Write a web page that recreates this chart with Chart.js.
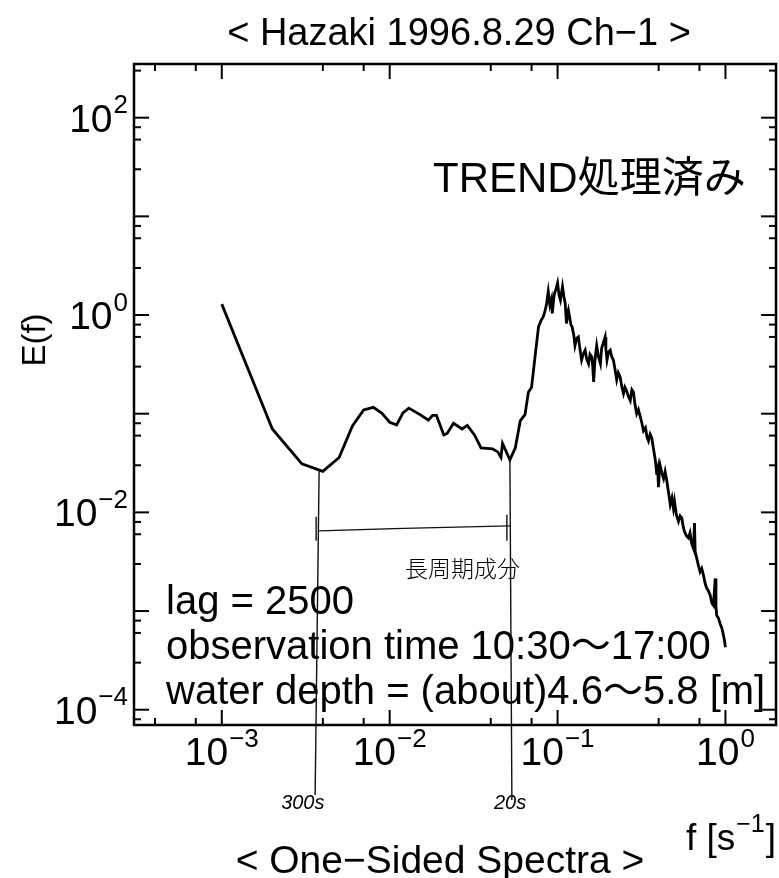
<!DOCTYPE html>
<html>
<head>
<meta charset="utf-8">
<script src="https://cdn.jsdelivr.net/npm/chart.js@4.4.0/dist/chart.umd.min.js"></script>
<style>
  html, body { margin: 0; padding: 0; background: #fff; }
</style>
</head>
<body>
<canvas id="spectra" width="779" height="878"></canvas>
<script>
// frequency [1/s] and one-sided spectrum E(f)
const freq = [
  0.001, 0.002, 0.003, 0.004, 0.005, 0.006, 0.007, 0.008, 0.009, 0.010,
  0.011, 0.012, 0.013, 0.015, 0.017, 0.018, 0.019, 0.021, 0.022, 0.024,
  0.027, 0.029, 0.032, 0.035, 0.041, 0.044, 0.046, 0.047, 0.052, 0.056,
  0.060, 0.064, 0.067, 0.070, 0.073, 0.077,
  0.080, 0.082, 0.084, 0.086, 0.088, 0.090, 0.092, 0.093, 0.095, 0.096,
  0.098, 0.100, 0.102, 0.104, 0.106, 0.107, 0.109, 0.111, 0.113, 0.115,
  0.116, 0.118, 0.120, 0.122, 0.125, 0.127, 0.130, 0.133, 0.136, 0.139,
  0.142, 0.146, 0.149, 0.153, 0.156, 0.160, 0.162, 0.164, 0.167, 0.171,
  0.175, 0.180, 0.183, 0.187, 0.192, 0.194, 0.197, 0.201, 0.206, 0.210,
  0.215, 0.220, 0.225, 0.230, 0.236, 0.241, 0.247, 0.252, 0.258, 0.264,
  0.271, 0.277, 0.283, 0.290, 0.296, 0.303, 0.310, 0.318, 0.325, 0.334,
  0.341, 0.348, 0.356, 0.364, 0.372, 0.381, 0.386, 0.390, 0.395, 0.399,
  0.404, 0.408, 0.418, 0.428, 0.437, 0.447, 0.458, 0.469, 0.480, 0.490,
  0.497, 0.510, 0.525, 0.537, 0.549, 0.560, 0.570, 0.585, 0.602, 0.615,
  0.630, 0.645, 0.654, 0.660, 0.675, 0.690, 0.706, 0.722, 0.740, 0.757,
  0.774, 0.792, 0.811, 0.830, 0.848, 0.869, 0.878, 0.887, 0.908, 0.930,
  0.950, 0.973, 0.987, 1.000
]
const spec = [
  1.29, 0.070, 0.031, 0.026, 0.036, 0.075, 0.109, 0.116, 0.101, 0.082,
  0.077, 0.102, 0.114, 0.099, 0.086, 0.096, 0.096, 0.061, 0.063, 0.080,
  0.070, 0.076, 0.061, 0.045, 0.044, 0.041, 0.036, 0.050, 0.034, 0.045,
  0.085, 0.098, 0.165, 0.185, 0.347, 0.76,
  0.89, 0.95, 1.08, 1.30, 1.73, 1.26, 1.45, 1.04, 1.50, 1.66,
  1.85, 2.11, 1.60, 1.42, 1.75, 1.94, 1.55, 1.32, 0.82, 1.05,
  1.12, 0.95, 0.80, 0.76, 0.62, 0.49, 0.58, 0.60, 0.45, 0.35,
  0.40, 0.44, 0.36, 0.32, 0.40, 0.375, 0.30, 0.21, 0.35, 0.49,
  0.38, 0.32, 0.46, 0.52, 0.60, 0.45, 0.35, 0.42, 0.44, 0.38,
  0.35, 0.28, 0.22, 0.26, 0.235, 0.19, 0.16, 0.185, 0.17, 0.15,
  0.136, 0.175, 0.165, 0.12, 0.10, 0.11, 0.095, 0.08, 0.067, 0.072,
  0.058, 0.053, 0.062, 0.057, 0.045, 0.035, 0.029, 0.024, 0.027, 0.018,
  0.026, 0.030, 0.025, 0.022, 0.026, 0.021, 0.016, 0.012, 0.014, 0.011,
  0.013, 0.0095, 0.0081, 0.0092, 0.0088, 0.0072, 0.0064, 0.0058, 0.0055, 0.0062,
  0.0048, 0.0043, 0.0078, 0.0040, 0.0034, 0.0029, 0.0025, 0.0027, 0.0023, 0.0019,
  0.0017, 0.0016, 0.00145, 0.0012, 0.00114, 0.00214, 0.0011, 0.0009, 0.00085, 0.00074,
  0.00068, 0.00057, 0.00050, 0.00043
]

const xRange = [3e-4, 2]
const yRange = [7e-5, 350]
const xLabelExps = [-3, -2, -1, 0]
const yLabelExps = [2, 0, -2, -4]

const title = '< Hazaki 1996.8.29 Ch\u22121 >'
const subTitle = '< One\u2212Sided Spectra >'
const trendNote = 'TREND処理済み'
const notes = ['lag = 2500', 'observation time 10:30〜17:00', 'water depth = (about)4.6〜5.8 [m]']

// hand-written marks on the print
const periodMarks = [0.0038, 0.052]
const periodLabels = ['300s', '20s']
const bandLevel = 0.0065
const bandNote = '長周期成分'

const FONT = '"Liberation Sans", Arial, "Noto Sans CJK JP", sans-serif'

function logTicks(scale) {
  const ticks = []
  const lo = Math.floor(Math.log10(scale.min))
  const hi = Math.ceil(Math.log10(scale.max))
  for (let e = lo; e <= hi; e++) {
    for (let k = 1; k <= 9; k++) {
      const v = k * Math.pow(10, e)
      if (v >= scale.min * 0.999 && v <= scale.max * 1.001) ticks.push({ value: v, major: k === 1 })
    }
  }
  scale.ticks = ticks
}

function line(ctx, x1, y1, x2, y2) {
  ctx.beginPath()
  ctx.moveTo(x1, y1)
  ctx.lineTo(x2, y2)
  ctx.stroke()
}

// "10" with a superscript exponent; align = 'center' | 'right'
function powLabel(ctx, base, exp, x, y, align, size) {
  const supSize = Math.round(size * 0.66)
  ctx.font = size + 'px ' + FONT
  const wb = ctx.measureText(base).width
  ctx.font = supSize + 'px ' + FONT
  const ws = ctx.measureText(exp).width
  const total = wb + ws + 1
  let x0 = align === 'center' ? x - total / 2 : x - total
  ctx.textAlign = 'left'
  ctx.textBaseline = 'alphabetic'
  ctx.font = size + 'px ' + FONT
  ctx.fillText(base, x0, y)
  ctx.font = supSize + 'px ' + FONT
  ctx.fillText(exp, x0 + wb + 1, y - size * 0.47)
}

const decor = {
  id: 'decor',
  afterDraw(chart) {
    const { ctx, chartArea: a, scales: { x, y } } = chart
    ctx.save()
    ctx.strokeStyle = '#000'
    ctx.fillStyle = '#000'

    // inward ticks on all four sides
    ctx.lineWidth = 2
    x.ticks.forEach(t => {
      const px = x.getPixelForValue(t.value)
      const len = t.major ? 15 : 7
      line(ctx, px, a.bottom, px, a.bottom - len)
      line(ctx, px, a.top, px, a.top + len)
    })
    y.ticks.forEach(t => {
      const py = y.getPixelForValue(t.value)
      const len = t.major ? 15 : 7
      line(ctx, a.left, py, a.left + len, py)
      line(ctx, a.right, py, a.right - len, py)
    })
    ctx.lineWidth = 2.5
    ctx.strokeRect(a.left, a.top, a.width, a.height)

    // tick labels
    xLabelExps.forEach(e => {
      powLabel(ctx, '10', String(e).replace('-', '\u2212'), x.getPixelForValue(Math.pow(10, e)), a.bottom + 40, 'center', 39)
    })
    yLabelExps.forEach(e => {
      powLabel(ctx, '10', String(e).replace('-', '\u2212'), a.left - 6, y.getPixelForValue(Math.pow(10, e)) + 14, 'right', 39)
    })

    // titles
    ctx.textBaseline = 'alphabetic'
    ctx.textAlign = 'center'
    ctx.font = '38px ' + FONT
    ctx.fillText(title, 459, 45)
    ctx.font = '39px ' + FONT
    ctx.fillText(subTitle, 440, 873)

    // f [s^-1]
    ctx.font = '37px ' + FONT
    const w1 = ctx.measureText('f [s').width
    const w3 = ctx.measureText(']').width
    ctx.font = '25px ' + FONT
    const w2 = ctx.measureText('\u22121').width
    let fx = a.right - (w1 + w2 + w3 + 2)
    ctx.textAlign = 'left'
    ctx.font = '37px ' + FONT
    ctx.fillText('f [s', fx, 850)
    ctx.font = '25px ' + FONT
    ctx.fillText('\u22121', fx + w1 + 1, 832)
    ctx.font = '37px ' + FONT
    ctx.fillText(']', fx + w1 + w2 + 2, 850)

    // E(f)
    ctx.save()
    ctx.translate(36, 340)
    ctx.rotate(-Math.PI / 2)
    ctx.textAlign = 'center'
    ctx.textBaseline = 'middle'
    ctx.font = '33px ' + FONT
    ctx.fillText('E(f)', 0, 0)
    ctx.restore()

    // notes in the plot
    ctx.textAlign = 'left'
    ctx.font = '42px ' + FONT
    ctx.fillText(trendNote, 433, 192)
    ctx.font = '40px ' + FONT
    notes.forEach((s, i) => ctx.fillText(s, 166, 614 + i * 45))

    // hand-written marks
    ctx.strokeStyle = '#111'
    ctx.lineWidth = 1.4
    const xl = x.getPixelForValue(periodMarks[0])
    const xr = x.getPixelForValue(periodMarks[1])
    const yb = y.getPixelForValue(bandLevel)
    line(ctx, xl, y.getPixelForValue(0.027), xl - 4, a.bottom + 70)
    line(ctx, xr, y.getPixelForValue(0.036), xr + 2, a.bottom + 75)
    ctx.beginPath()
    ctx.moveTo(xl, yb)
    ctx.quadraticCurveTo((xl + xr) / 2, yb - 3, xr, yb - 5)
    ctx.stroke()
    line(ctx, xl - 3, yb - 14, xl - 3, yb + 10)
    line(ctx, xr - 3, yb - 16, xr - 3, yb + 10)
    ctx.font = 'italic 20px ' + FONT
    ctx.fillText(periodLabels[0], xl - 38, a.bottom + 84)
    ctx.fillText(periodLabels[1], xr - 16, a.bottom + 84)
    ctx.font = '300 23px "Noto Sans CJK JP", sans-serif'
    ctx.fillText(bandNote, 405, 577)
    ctx.restore()
  }
}

new Chart(document.getElementById('spectra'), {
  type: 'line',
  data: {
    datasets: [{
      label: 'E(f)',
      data: freq.map((f, i) => ({ x: f, y: spec[i] })),
      borderColor: '#000',
      borderWidth: 2.8,
      pointRadius: 0,
      tension: 0,
      fill: false
    }]
  },
  options: {
    responsive: false,
    animation: false,
    layout: { padding: { left: 134, right: 3, top: 64, bottom: 153 } },
    plugins: { legend: { display: false }, tooltip: { enabled: false } },
    scales: {
      x: {
        type: 'logarithmic',
        min: xRange[0],
        max: xRange[1],
        display: false,
        afterBuildTicks: logTicks
      },
      y: {
        type: 'logarithmic',
        min: yRange[0],
        max: yRange[1],
        display: false,
        afterBuildTicks: logTicks
      }
    }
  },
  plugins: [decor]
})
</script>
</body>
</html>
